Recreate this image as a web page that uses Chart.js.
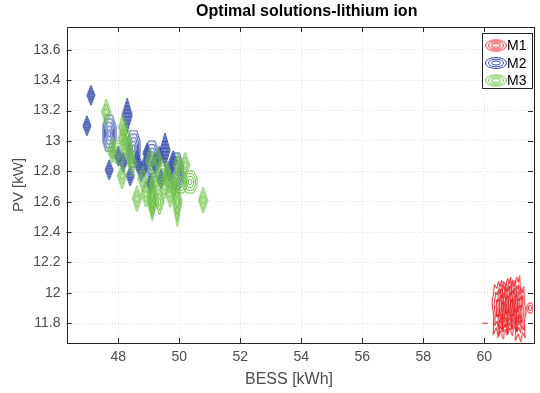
<!DOCTYPE html>
<html>
<head>
<meta charset="utf-8">
<script src="https://cdn.jsdelivr.net/npm/chart.js@4.4.0/dist/chart.umd.min.js"></script>
<style>
  html, body { margin: 0; padding: 0; background: #fff; }
  canvas { display: block; }
</style>
</head>
<body>
<canvas id="c" width="540" height="393"></canvas>
<script>
// Contour blobs of the optimal (BESS, PV) solutions.
// Each entry is the centre of one contour group; the ring shape is style.

// M1 (red) - cluster near 60-61.5 kWh
const M1_BESS = [60.45, 60.60, 60.75, 60.90, 61.05, 61.18];
const M1_PV   = [11.90, 11.88, 11.92, 11.90, 11.93, 11.86];
const M1_RING_BESS = [61.51];
const M1_RING_PV   = [11.90];
const M1_DASH_BESS = [60.03];
const M1_DASH_PV   = [11.80];

// M2 (blue)
const M2_BESS = [47.10, 46.97, 47.70, 48.16, 48.39, 48.61, 48.94, 49.80, 48.75, 49.20,
                 49.05, 49.65, 48.00, 48.85, 49.35, 49.40];
const M2_PV   = [13.30, 13.10, 12.81, 12.86, 12.77, 12.87, 12.92, 12.87, 12.80, 12.85,
                 12.72, 12.80, 12.90, 12.83, 12.90, 12.75];
const M2_TALL_BESS = [48.29, 49.53];
const M2_TALL_PV   = [13.17, 12.94];
const M2_WIDE_BESS = [47.70, 48.50, 49.10, 49.90];
const M2_WIDE_PV   = [13.05, 12.95, 12.88, 12.80];

// M3 (green)
const M3_BESS = [47.60, 47.79, 48.15, 48.15, 48.38, 48.12, 48.61, 49.11, 49.04, 49.30,
                 49.96, 50.19, 50.78, 48.80, 49.50, 49.70, 48.45, 49.20, 48.90, 49.60,
                 49.35, 48.30, 49.80];
const M3_PV   = [13.19, 12.94, 13.09, 13.02, 12.91, 12.77, 12.62, 12.58, 12.87, 12.87,
                 12.84, 12.84, 12.61, 12.75, 12.70, 12.65, 12.85, 12.72, 12.65, 12.78,
                 12.60, 13.00, 12.70];
const M3_TALL_BESS = [49.93, 49.11];
const M3_TALL_PV   = [12.60, 12.64];
const M3_WIDE_BESS = [50.02, 50.35, 49.45, 48.00];
const M3_WIDE_PV   = [12.73, 12.73, 12.78, 12.93];

const X_TICKS = [48, 50, 52, 54, 56, 58, 60];
const Y_TICKS = [11.8, 12, 12.2, 12.4, 12.6, 12.8, 13, 13.2, 13.4, 13.6];
const SERIES = ['M1', 'M2', 'M3'];

const RED = '#e8262b', BLUE = '#3a4fb0', GREEN = '#6cbf45';
const AXIS = '#262626', TEXT = '#4d4d4d';
const FONT = '"Liberation Sans", Arial, Helvetica, sans-serif';

// normalised ring outlines
const DIAMOND = [[0, -1], [1, 0], [0, 1], [-1, 0]];
const HEX = [[-0.5, -1], [0.5, -1], [1, -0.4], [1, 0.4], [0.5, 1], [-0.5, 1], [-1, 0.4], [-1, -0.4]];
const JAG = [[-0.6, -0.85], [-0.2, -0.7], [0.1, -0.95], [0.35, -0.75], [0.6, -1], [0.75, -0.4],
             [1, -0.1], [0.7, 0.3], [0.85, 0.85], [0.4, 0.65], [0.1, 1], [-0.3, 0.7],
             [-0.8, 0.95], [-0.7, 0.3], [-1, -0.2], [-0.75, -0.5]];
const FLAT = [[-1, 0], [1, 0]];

function ringIcon(color, w, h, rings, shape) {
  const c = document.createElement('canvas');
  c.width = Math.ceil(w) + 2;
  c.height = Math.ceil(h) + 2;
  const g = c.getContext('2d');
  g.strokeStyle = color;
  g.lineWidth = 1;
  for (let k = 1; k <= rings; k++) {
    const s = k / rings;
    g.beginPath();
    shape.forEach(([px, py], i) => {
      const x = c.width / 2 + px * s * w / 2;
      const y = c.height / 2 + py * s * h / 2;
      if (i) g.lineTo(x, y); else g.moveTo(x, y);
    });
    g.closePath();
    g.stroke();
  }
  return c;
}

function ellipseIcon(color) {
  const c = document.createElement('canvas');
  c.width = 24; c.height = 14;
  const g = c.getContext('2d');
  g.strokeStyle = color;
  g.lineWidth = 1;
  [[10.5, 5.5], [7.5, 3.8], [4.5, 2]].forEach(([rx, ry]) => {
    g.beginPath();
    g.ellipse(12, 7, rx, ry, 0, 0, Math.PI * 2);
    g.stroke();
  });
  return c;
}

const pts = (xs, ys) => xs.map((x, i) => ({ x, y: ys[i] }));

function blobSet(label, xs, ys, icon, order) {
  return {
    label, data: pts(xs, ys), order,
    pointStyle: icon, pointRadius: 6, pointHoverRadius: 6,
    showLine: false, borderColor: 'transparent', backgroundColor: 'transparent',
  };
}

const datasets = [
  blobSet('M1', M1_BESS, M1_PV, ringIcon(RED, 12, 56, 3, JAG), 2),
  blobSet('M1', M1_RING_BESS, M1_RING_PV, ringIcon(RED, 6, 10, 2, HEX), 2),
  blobSet('M1', M1_DASH_BESS, M1_DASH_PV, ringIcon(RED, 6, 1, 1, FLAT), 2),
  blobSet('M2', M2_BESS, M2_PV, ringIcon(BLUE, 8, 20, 4, DIAMOND), 1),
  blobSet('M2', M2_TALL_BESS, M2_TALL_PV, ringIcon(BLUE, 10, 34, 5, DIAMOND), 1),
  blobSet('M2', M2_WIDE_BESS, M2_WIDE_PV, ringIcon(BLUE, 13, 36, 5, HEX), 1),
  blobSet('M3', M3_BESS, M3_PV, ringIcon(GREEN, 9, 26, 3, DIAMOND), 0),
  blobSet('M3', M3_TALL_BESS, M3_TALL_PV, ringIcon(GREEN, 9, 50, 4, DIAMOND), 0),
  blobSet('M3', M3_WIDE_BESS, M3_WIDE_PV, ringIcon(GREEN, 14, 22, 4, HEX), 0),
];

// MATLAB-like box, inward ticks, titles and boxed legend
const matlabAxes = {
  id: 'matlabAxes',
  afterDatasetsDraw(chart) {
    const { ctx, chartArea: a, scales } = chart;
    ctx.save();
    ctx.strokeStyle = AXIS;
    ctx.lineWidth = 1;
    ctx.strokeRect(Math.round(a.left) + 0.5, Math.round(a.top) + 0.5,
                   Math.round(a.right - a.left), Math.round(a.bottom - a.top));
    const t = 5;
    ctx.beginPath();
    X_TICKS.forEach(v => {
      const x = Math.round(scales.x.getPixelForValue(v)) + 0.5;
      ctx.moveTo(x, a.bottom); ctx.lineTo(x, a.bottom - t);
      ctx.moveTo(x, a.top); ctx.lineTo(x, a.top + t);
    });
    Y_TICKS.forEach(v => {
      const y = Math.round(scales.y.getPixelForValue(v)) + 0.5;
      ctx.moveTo(a.left, y); ctx.lineTo(a.left + t, y);
      ctx.moveTo(a.right, y); ctx.lineTo(a.right - t, y);
    });
    ctx.stroke();

    // titles
    ctx.textAlign = 'center';
    ctx.textBaseline = 'middle';
    ctx.fillStyle = '#000';
    ctx.font = 'bold 16px ' + FONT;
    ctx.fillText('Optimal solutions-lithium ion', a.left + (a.right - a.left) * 0.515, 12);
    ctx.fillStyle = TEXT;
    ctx.font = '16px ' + FONT;
    ctx.fillText('BESS [kWh]', a.left + (a.right - a.left) * 0.477, 380);

    // legend
    const colors = [RED, BLUE, GREEN];
    const bx = a.right - 51, by = a.top + 6, bw = 50, bh = 55;
    ctx.textAlign = 'left';
    ctx.fillStyle = '#fff';
    ctx.fillRect(bx, by, bw, bh);
    ctx.strokeStyle = AXIS;
    ctx.strokeRect(bx + 0.5, by + 0.5, bw, bh);
    ctx.font = '14px ' + FONT;
    ctx.fillStyle = '#000';
    SERIES.forEach((name, i) => {
      const cy = by + 12.5 + i * 17.5;
      ctx.drawImage(ellipseIcon(colors[i]), bx + 2, cy - 7);
      ctx.fillText(name, bx + 25, cy + 1);
    });
    ctx.restore();
  },
};

const fmt = v => String(Number(Number(v).toFixed(1)));

new Chart(document.getElementById('c'), {
  type: 'scatter',
  data: { datasets },
  plugins: [matlabAxes],
  options: {
    responsive: false,
    animation: false,
    events: [],
    layout: { padding: { left: 0, right: 7, top: 27, bottom: 0 } },
    plugins: {
      legend: { display: false },
      tooltip: { enabled: false },
      title: { display: false },
    },
    scales: {
      x: {
        type: 'linear', min: 46.3, max: 61.6,
        afterBuildTicks: s => { s.ticks = X_TICKS.map(value => ({ value })); },
        afterFit: s => { s.height = 50; },
        ticks: { color: TEXT, font: { family: FONT, size: 14 }, padding: 6, callback: fmt, maxRotation: 0 },
        grid: { color: '#e3e3e3', drawTicks: false },
        border: { display: false, dash: [1, 2] },
      },
      y: {
        type: 'linear', min: 11.67, max: 13.75,
        afterBuildTicks: s => { s.ticks = Y_TICKS.map(value => ({ value })); },
        afterFit: s => { s.width = 66.5; },
        ticks: { color: TEXT, font: { family: FONT, size: 14 }, padding: 6, callback: fmt },
        grid: { color: '#e3e3e3', drawTicks: false },
        border: { display: false, dash: [1, 2] },
        title: { display: true, text: 'PV [kW]', color: TEXT, font: { family: FONT, size: 15 }, padding: { top: 10, bottom: 0 } },
      },
    },
  },
});
</script>
</body>
</html>
